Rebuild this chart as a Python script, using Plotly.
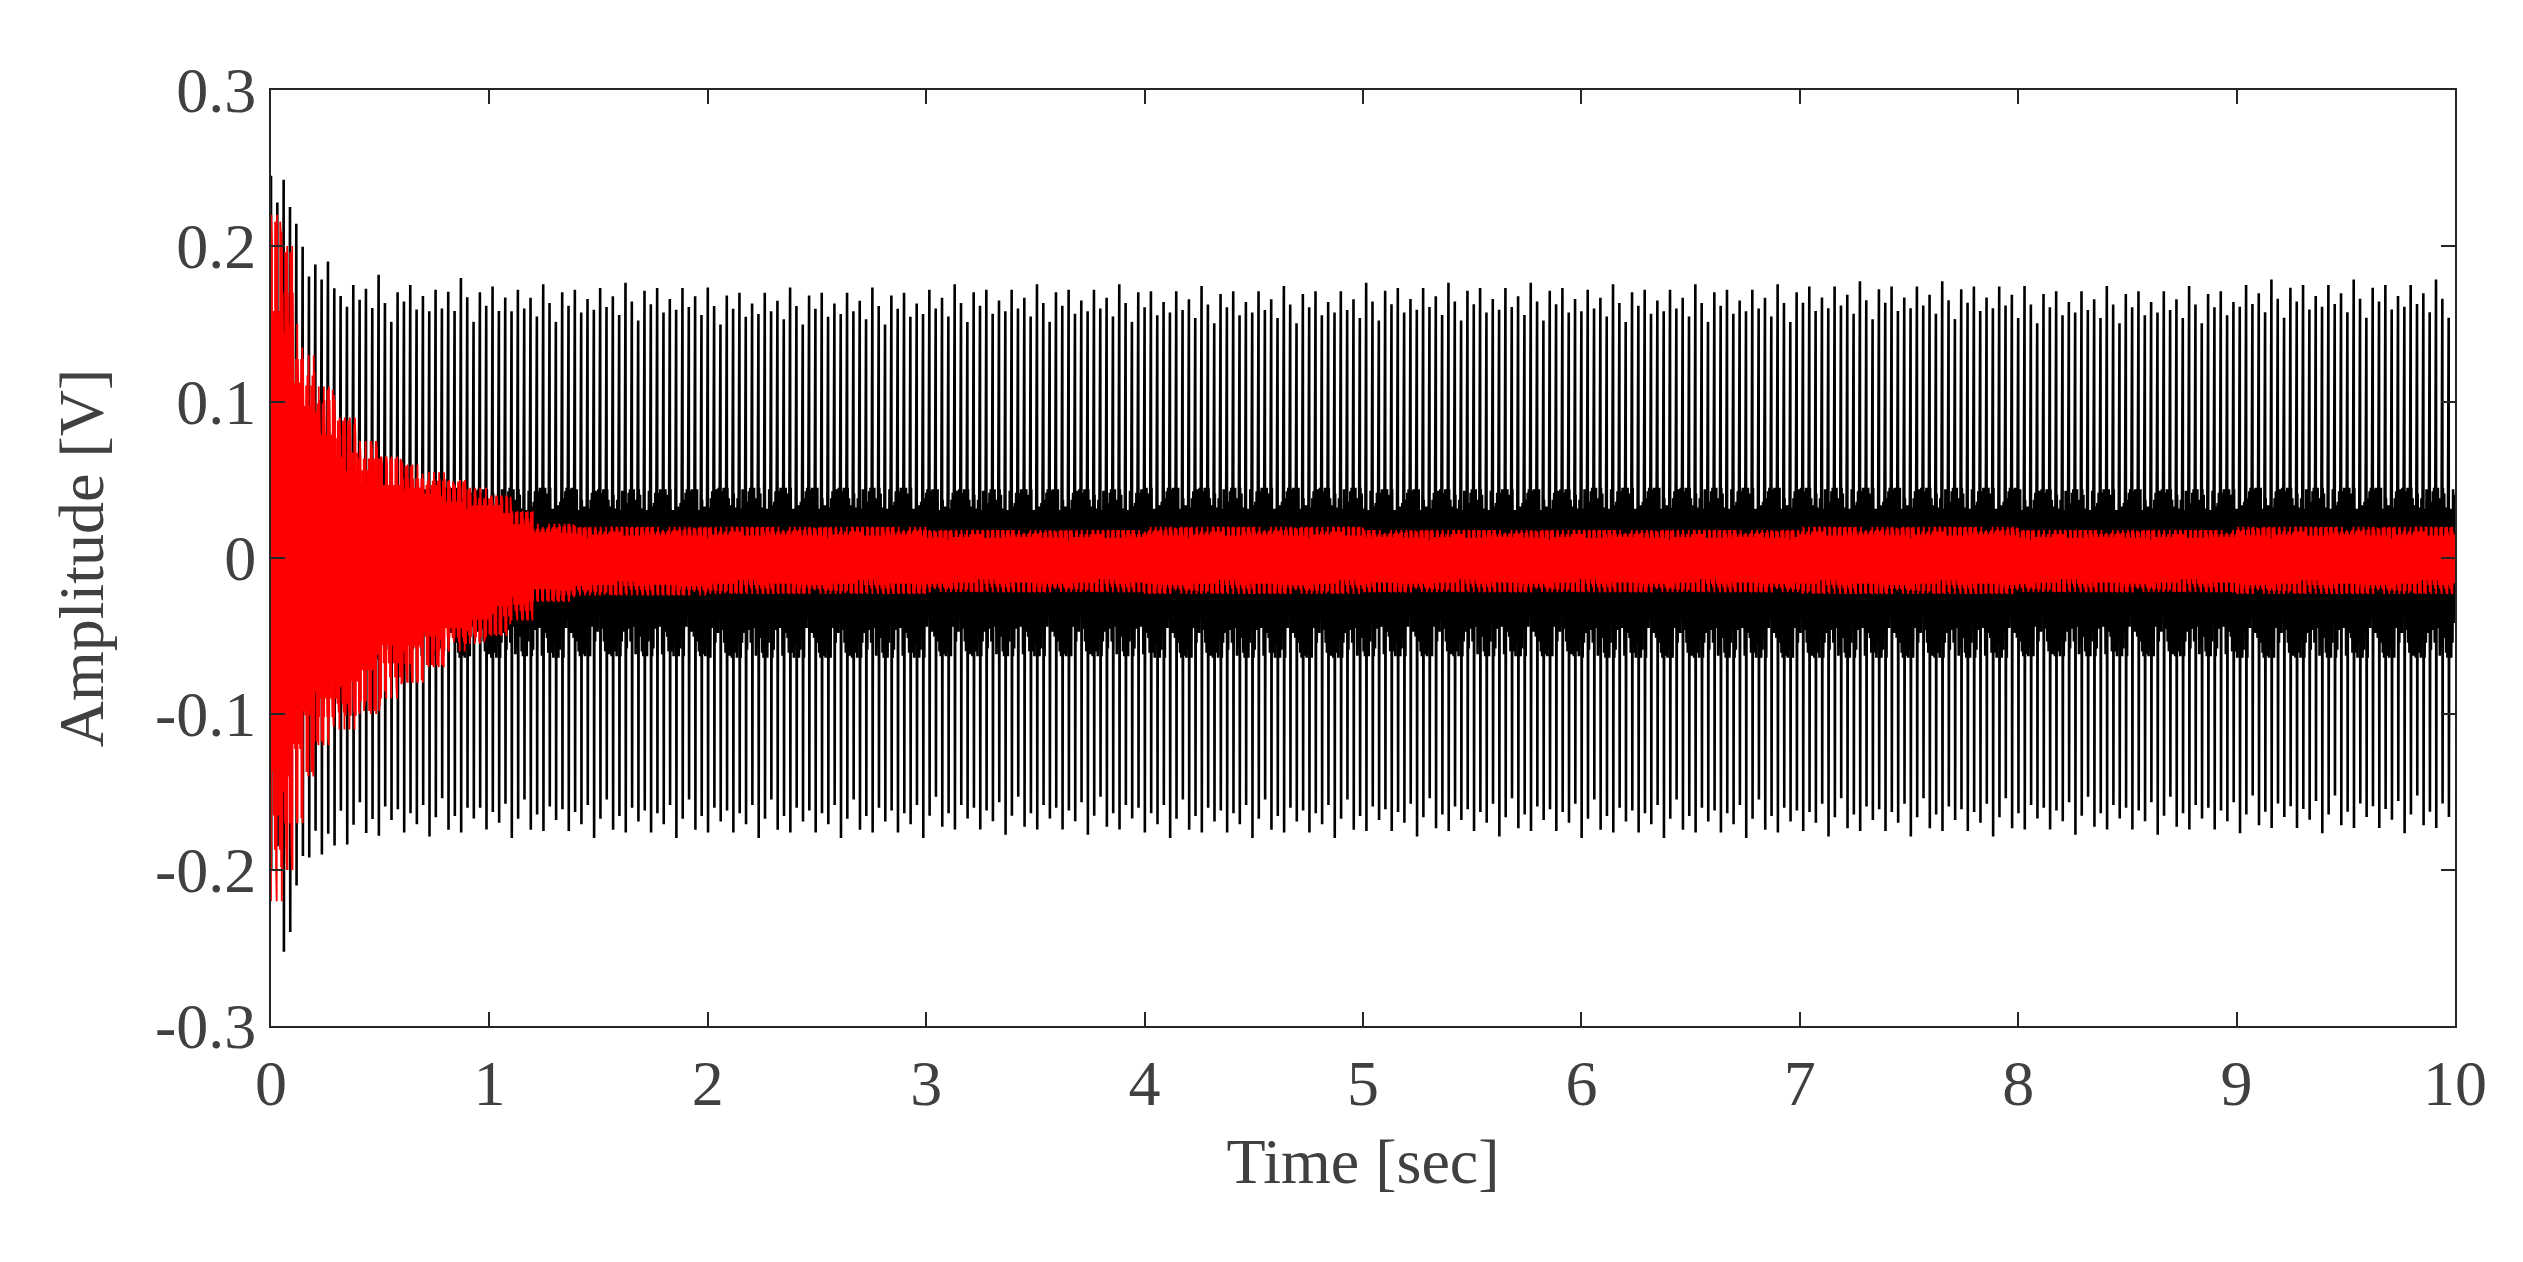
import numpy as np
import plotly.graph_objects as go

# envelope readings (time in sec, amplitude in V)
env_t = [0.0, 0.05, 0.1, 0.15, 0.2, 0.3, 0.4, 0.5, 0.6, 0.7, 0.8, 0.9, 1.0, 1.1, 1.2, 1.4, 2.0, 3.0, 4.0, 5.0, 6.0, 7.0, 8.0, 9.0]
spike_hi = [0.245, 0.25, 0.21, 0.205, 0.19, 0.175, 0.178, 0.172, 0.175, 0.172, 0.176, 0.172, 0.174, 0.172, 0.172, 0.173, 0.170, 0.172, 0.171, 0.173, 0.172, 0.174, 0.171, 0.175]
spike_lo = [-0.21, -0.255, -0.21, -0.2, -0.19, -0.18, -0.178, -0.175, -0.176, -0.175, -0.176, -0.174, -0.175, -0.176, -0.175, -0.176, -0.176, -0.174, -0.176, -0.175, -0.176, -0.175, -0.174, -0.173]
band_hi = [0.10, 0.08, 0.06, 0.055, 0.05, 0.048, 0.046, 0.045, 0.045, 0.044, 0.045, 0.044, 0.045, 0.044, 0.045, 0.044, 0.045, 0.044, 0.045, 0.044, 0.045, 0.045, 0.044, 0.045]
band_lo = [-0.12, -0.10, -0.08, -0.075, -0.07, -0.068, -0.065, -0.064, -0.064, -0.063, -0.064, -0.063, -0.064, -0.063, -0.064, -0.063, -0.064, -0.063, -0.064, -0.063, -0.064, -0.064, -0.063, -0.064]
red_hi = [0.22, 0.20, 0.15, 0.13, 0.11, 0.09, 0.075, 0.065, 0.06, 0.055, 0.05, 0.045, 0.04, 0.03, 0.022, 0.02, 0.02, 0.018, 0.02, 0.018, 0.018, 0.02, 0.018, 0.02]
red_lo = [-0.22, -0.20, -0.17, -0.14, -0.12, -0.11, -0.10, -0.09, -0.08, -0.07, -0.06, -0.055, -0.05, -0.04, -0.028, -0.024, -0.023, -0.022, -0.023, -0.022, -0.022, -0.023, -0.022, -0.023]

# relative heights of successive spikes and wiggles, as seen in the trace
spike_ratio = [1.0, 0.93, 0.97, 0.9, 1.02, 0.95, 0.88, 0.99, 0.94, 1.0, 0.91, 0.96, 0.92]
wiggle_ratio = [0.95, 0.7, 1.0, 0.6, 0.85, 0.98, 0.65, 0.9, 0.75, 1.0, 0.6, 0.92, 0.8, 0.55, 0.95, 0.72, 1.0, 0.85, 0.62]

period = 1 / 34.5   # spike spacing seen in the trace
sub = 10            # wiggles drawn between two spikes


def lookup(arr, t):
    i = np.searchsorted(env_t, t, side='right') - 1
    return arr[max(i, 0)]


bx, by, rx, ry = [], [], [], []
k = 0
w = 0
t0 = 0.0
while t0 < 10.0:
    r = spike_ratio[k % len(spike_ratio)]
    r2 = spike_ratio[(k + 5) % len(spike_ratio)]
    bx += [t0, t0 + period * 0.04]
    by += [lookup(spike_hi, t0) * r, lookup(spike_lo, t0) * r2]
    for j in range(1, sub):
        t = t0 + period * j / sub
        f = wiggle_ratio[w % len(wiggle_ratio)]
        w += 1
        bx.append(t)
        by.append((lookup(band_hi, t) if j % 2 else lookup(band_lo, t)) * f)
    for j in range(2 * sub):
        t = t0 + period * j / (2 * sub)
        f = wiggle_ratio[(w + 7 * j) % len(wiggle_ratio)]
        rx.append(t)
        ry.append((lookup(red_hi, t) if j % 2 else lookup(red_lo, t)) * f)
    k += 1
    t0 = k * period

fig = go.Figure()
fig.add_trace(go.Scatter(x=bx, y=by, mode='lines', line=dict(color='black', width=2.6)))
fig.add_trace(go.Scatter(x=rx, y=ry, mode='lines', line=dict(color='#ff0000', width=1.8)))

font = dict(family='Liberation Serif', size=64, color='#404040')
axis = dict(showgrid=False, zeroline=False, showline=True, mirror='ticks', linecolor='#262626',
            linewidth=2, ticks='inside', ticklen=14, tickwidth=2, tickcolor='#262626', tickfont=font)
fig.update_xaxes(range=[0, 10], dtick=1, title=dict(text='Time [sec]', font=font, standoff=20), **axis)
fig.update_yaxes(range=[-0.3, 0.3], tickvals=[-0.3, -0.2, -0.1, 0, 0.1, 0.2, 0.3],
                 ticktext=['-0.3', '-0.2', '-0.1', '0', '0.1', '0.2', '0.3'],
                 title=dict(text='Amplitude [V]', font=font, standoff=30), **axis)
fig.update_layout(width=2523, height=1262, showlegend=False, plot_bgcolor='white', paper_bgcolor='white',
                  margin=dict(l=263, r=76, t=82, b=244))
fig.write_html("out.html")
